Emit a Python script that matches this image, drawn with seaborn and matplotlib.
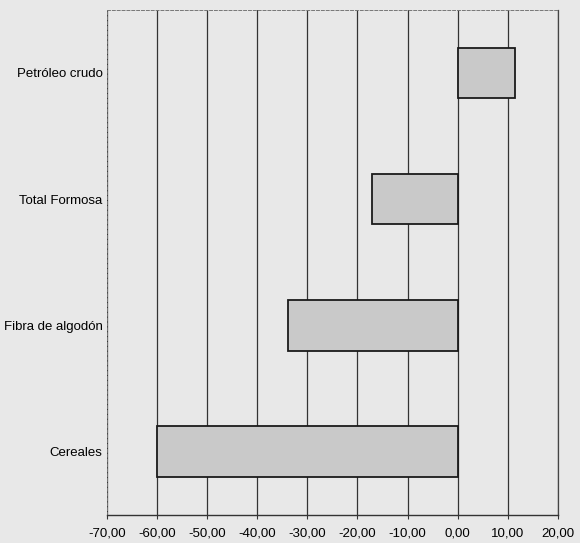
import seaborn as sns
import matplotlib.pyplot as plt
from matplotlib.ticker import FuncFormatter

# datos
categorias = ["Petróleo crudo", "Total Formosa", "Fibra de algodón", "Cereales"]
valores = [11.4, -17.0, -33.8, -60.0]
ticks_x = [-70, -60, -50, -40, -30, -20, -10, 0, 10, 20]

fondo = "#e8e8e8"
color_barra = "#c9c9c9"

plt.rcParams['font.family'] = ['Liberation Sans', 'DejaVu Sans']

fig = plt.figure(figsize=(5.8, 5.43), dpi=100, facecolor=fondo)
ax = fig.add_axes([0.184, 0.052, 0.778, 0.930])
ax.set_facecolor(fondo)

sns.barplot(x=valores, y=categorias, orient="h", color=color_barra, width=0.4,
            edgecolor="#1a1a1a", linewidth=1.3, saturation=1, ax=ax)

ax.set_xlim(-70, 20)
ax.set_ylim(3.5, -0.5)
ax.set_xticks(ticks_x)
ax.xaxis.set_major_formatter(FuncFormatter(lambda v, p: f"{v:.2f}".replace(".", ",")))
ax.grid(axis="x", color="#333333", linewidth=0.9)
ax.set_axisbelow(True)
ax.set_xlabel("")
ax.set_ylabel("")

ax.tick_params(axis="x", labelsize=9.5, length=3, color="#333333", pad=6)
ax.tick_params(axis="y", labelsize=9.5, length=0, pad=3)

for lado in ["top", "left"]:
    ax.spines[lado].set_color("#777777")
    ax.spines[lado].set_linestyle((0, (3, 2)))
    ax.spines[lado].set_linewidth(0.7)
ax.spines["right"].set_color("#444444")
ax.spines["right"].set_linestyle((0, (4, 1)))
ax.spines["right"].set_linewidth(0.9)
ax.spines["bottom"].set_color("#333333")
ax.spines["bottom"].set_linewidth(1.0)

plt.savefig("out.png", dpi=100, facecolor=fondo)
